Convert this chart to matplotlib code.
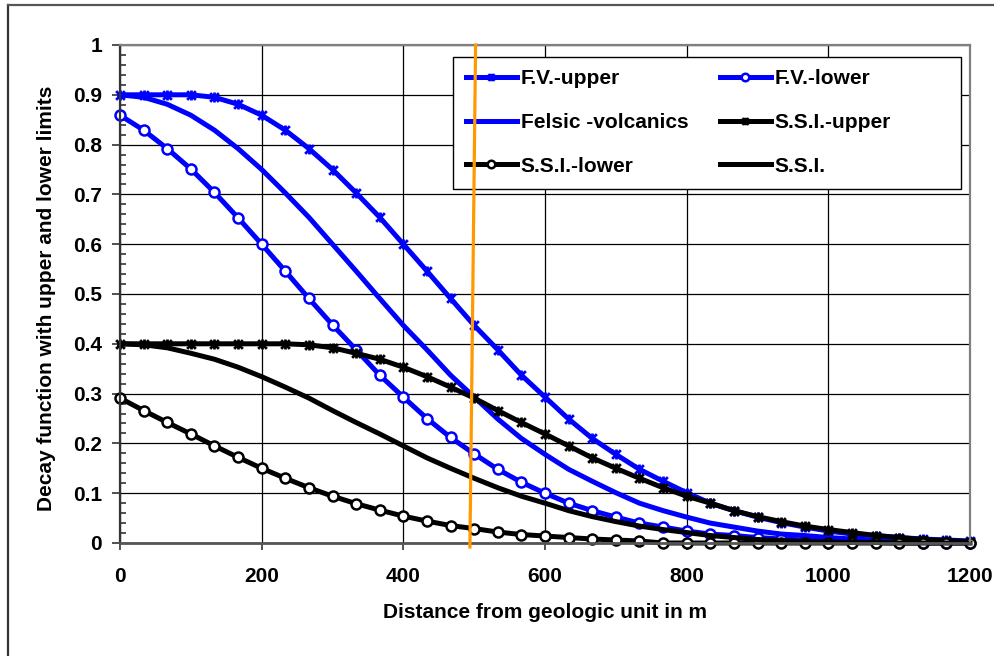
import matplotlib
matplotlib.use("Agg")
import matplotlib.pyplot as plt
import numpy as np
from matplotlib.path import Path
from matplotlib.lines import Line2D
from matplotlib.patches import Rectangle
from matplotlib.ticker import MultipleLocator, FuncFormatter

plt.rcParams['font.family'] = ['Liberation Sans', 'DejaVu Sans']
plt.rcParams['font.weight'] = 'bold'

# ---- data (x every 1200/36 m) ----
distance = [i * 1200 / 36 for i in range(37)]

fv_upper = [0.900, 0.900, 0.900, 0.900, 0.895, 0.881, 0.859, 0.829, 0.792, 0.750,
            0.703, 0.654, 0.600, 0.546, 0.491, 0.437, 0.388, 0.337, 0.293, 0.249,
            0.210, 0.178, 0.148, 0.124, 0.101, 0.080, 0.065, 0.052, 0.041, 0.032,
            0.024, 0.018, 0.015, 0.011, 0.008, 0.006, 0.004]

fv_lower = [0.859, 0.829, 0.792, 0.751, 0.704, 0.653, 0.600, 0.546, 0.491, 0.438,
            0.388, 0.337, 0.293, 0.250, 0.212, 0.179, 0.148, 0.122, 0.100, 0.080,
            0.065, 0.052, 0.040, 0.032, 0.024, 0.018, 0.015, 0.011, 0.008, 0.006,
            0.004, 0.003, 0.002, 0.002, 0.001, 0.001, 0.001]

felsic = [0.900, 0.895, 0.881, 0.859, 0.829, 0.792, 0.750, 0.703, 0.654, 0.600,
          0.546, 0.491, 0.437, 0.388, 0.337, 0.293, 0.249, 0.210, 0.178, 0.148,
          0.124, 0.101, 0.080, 0.065, 0.052, 0.040, 0.032, 0.024, 0.018, 0.015,
          0.011, 0.008, 0.006, 0.004, 0.003, 0.002, 0.002]

ssi_upper = [0.400, 0.400, 0.400, 0.400, 0.400, 0.400, 0.400, 0.400, 0.398, 0.392,
             0.381, 0.369, 0.353, 0.334, 0.313, 0.291, 0.266, 0.242, 0.219, 0.195,
             0.171, 0.150, 0.130, 0.111, 0.094, 0.080, 0.065, 0.053, 0.043, 0.034,
             0.027, 0.021, 0.015, 0.011, 0.007, 0.005, 0.003]

ssi_lower = [0.291, 0.266, 0.242, 0.219, 0.195, 0.172, 0.150, 0.130, 0.111, 0.094,
             0.079, 0.066, 0.054, 0.044, 0.035, 0.029, 0.022, 0.017, 0.014, 0.011,
             0.008, 0.006, 0.004, 0.000, 0.000, 0.000, 0.000, 0.000, 0.000, 0.000,
             0.000, 0.000, 0.000, 0.000, 0.000, 0.000, 0.000]

ssi = [0.400, 0.398, 0.392, 0.381, 0.369, 0.353, 0.334, 0.313, 0.291, 0.266,
       0.242, 0.219, 0.195, 0.171, 0.150, 0.130, 0.111, 0.094, 0.080, 0.065,
       0.053, 0.043, 0.034, 0.027, 0.021, 0.015, 0.011, 0.007, 0.005, 0.003,
       0.002, 0.001, 0.001, 0.000, 0.000, 0.000, 0.000]

marker_line_x = [502, 494]
marker_line_y = [1.0, -0.008]

labels = ['F.V.-upper', 'F.V.-lower', 'Felsic -volcanics',
          'S.S.I.-upper', 'S.S.I.-lower', 'S.S.I.']

# ---- figure ----
W, H = 994, 656
FS = 15
fig = plt.figure(figsize=(W / 100, H / 100), dpi=100)
fig.patch.set_facecolor('white')

# chart-area border (left & top visible)
fig.add_artist(Line2D([8 / W, 8 / W], [0, 1 - 5 / H], transform=fig.transFigure,
                      color='#333333', lw=1.6))
fig.add_artist(Line2D([8 / W, 1], [1 - 5 / H, 1 - 5 / H], transform=fig.transFigure,
                      color='#555555', lw=1.6))

ax = fig.add_axes([120 / W, 1 - 543 / H, 850 / W, 498 / H])
ax.set_xlim(0, 1200)
ax.set_ylim(0, 1)

star = Path([(-1, -1), (1, 1), (-1, 1), (1, -1), (0, -1.15), (0, 1.15)],
            [Path.MOVETO, Path.LINETO, Path.MOVETO, Path.LINETO, Path.MOVETO, Path.LINETO])

blue = '#0000FF'
black = '#000000'
lw = 3.6
common = dict(lw=lw, clip_on=False, solid_joinstyle='round')

h1, = ax.plot(distance, fv_upper, color=blue, marker=star, ms=7.2, mew=2.0,
              mec=blue, label=labels[0], **common)
h2, = ax.plot(distance, fv_lower, color=blue, marker='o', ms=7.2, mew=1.8,
              mec=blue, mfc='white', label=labels[1], **common)
h3, = ax.plot(distance, felsic, color=blue, label=labels[2], **common)
h4, = ax.plot(distance, ssi_upper, color=black, marker=star, ms=7.2, mew=2.0,
              mec=black, label=labels[3], **common)
h5, = ax.plot(distance, ssi_lower, color=black, marker='o', ms=7.2, mew=1.8,
              mec=black, mfc='white', label=labels[4], **common)
h6, = ax.plot(distance, ssi, color=black, label=labels[5], **common)

# grid
ax.set_axisbelow(True)
ax.grid(True, which='major', color='#000000', lw=0.9)

# spines
for s in ['top', 'right']:
    ax.spines[s].set_color('#808080')
    ax.spines[s].set_linewidth(1.6)
ax.spines['left'].set_color('#333333')
ax.spines['left'].set_linewidth(1.6)
ax.spines['bottom'].set_color('#555555')
ax.spines['bottom'].set_linewidth(2.0)

# ticks
ax.xaxis.set_major_locator(MultipleLocator(200))
ax.yaxis.set_major_locator(MultipleLocator(0.1))
ax.yaxis.set_minor_locator(MultipleLocator(0.02))
fmt = FuncFormatter(lambda v, p: f'{v:.1f}'.rstrip('0').rstrip('.') if v != 0 else '0')
ax.yaxis.set_major_formatter(fmt)
ax.tick_params(axis='y', which='major', direction='out', length=6, width=1.2,
               color='#333333', labelsize=FS, pad=7)
ax.tick_params(axis='y', which='minor', direction='in', length=4.5, width=1.2,
               color='#333333')
ax.tick_params(axis='x', which='major', direction='out', length=5, width=1.2,
               color='#333333', labelsize=FS, pad=12)
for t in ax.get_xticklabels() + ax.get_yticklabels():
    t.set_fontweight('bold')

fig.text(545 / W, 1 - 612 / H, 'Distance from geologic unit in m',
         ha='center', va='center', fontsize=FS, fontweight='bold')
fig.text(47 / W, 1 - 298 / H, 'Decay function with upper and lower limits',
         ha='center', va='center', rotation=90, fontsize=FS, fontweight='bold')

# legend frame (fixed size, like the original)
ax.add_artist(Rectangle((453 / W, 1 - 189 / H), 508 / W, 132 / H,
                        transform=fig.transFigure, facecolor='white',
                        edgecolor='#000000', lw=1.0, zorder=4.9, clip_on=False))

# legend (row-major order like the original)
handles = [h1, h3, h5, h2, h4, h6]
leg = ax.legend(handles, [h.get_label() for h in handles], ncol=2,
                loc='upper left',
                bbox_to_anchor=(453 / W, 1 - 57 / H),
                bbox_transform=fig.transFigure, borderaxespad=0,
                frameon=False,
                prop={'weight': 'bold', 'size': FS}, handlelength=2.45,
                handletextpad=0.2, labelspacing=1.18, borderpad=0.6,
                columnspacing=1.5, markerscale=0.75)
leg.set_zorder(5)

# orange vertical marker line (drawn over everything)
ax.plot(marker_line_x, marker_line_y, color='#FF9900', lw=2.3, zorder=10,
        clip_on=False)

fig.savefig('out.png', dpi=100)
